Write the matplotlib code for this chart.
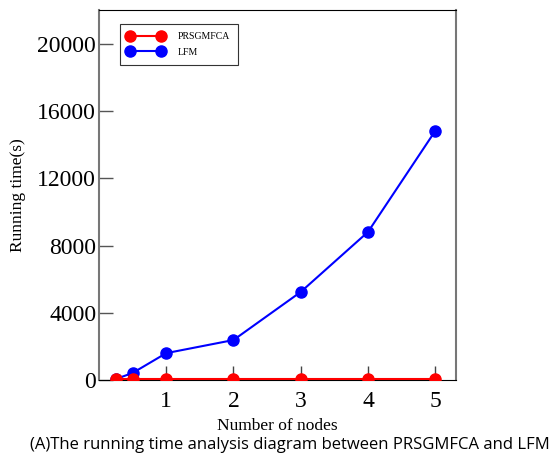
import matplotlib.pyplot as plt

nodes = [0.25, 0.5, 1, 2, 3, 4, 5]
prsgmfca = [40, 40, 40, 40, 40, 40, 40]
lfm = [60, 420, 1600, 2380, 5240, 8810, 14820]

plt.rcParams['font.family'] = 'Liberation Serif'

fig = plt.figure(figsize=(5.59, 4.59), dpi=100)
ax = fig.add_axes([0.177, 0.172, 0.639, 0.806])

ax.plot(nodes, lfm, color='blue', marker='o', markersize=8, lw=1.5, label='LFM', zorder=2)
ax.plot(nodes, prsgmfca, color='red', marker='o', markersize=8, lw=1.5, label='PRSGMFCA', zorder=3)

ax.set_xlim(0, 5.31)
ax.set_ylim(0, 22000)
ax.set_xticks([1, 2, 3, 4, 5])
ax.set_yticks([0, 4000, 8000, 12000, 16000, 20000])
ax.tick_params(axis='x', direction='in', length=10, width=1, color='#444444',
               labelsize=17, pad=8)
ax.tick_params(axis='y', direction='in', length=10, width=1, color='#555555',
               labelsize=17, pad=2)

ax.spines['left'].set_color('#777777')
ax.spines['right'].set_color('#777777')
ax.spines['left'].set_linewidth(1.5)
ax.spines['right'].set_linewidth(1.5)
ax.spines['top'].set_color('black')
ax.spines['bottom'].set_color('black')

ax.set_xlabel('Number of nodes', fontsize=12.5, labelpad=4)
ax.set_ylabel('Running time(s)', fontsize=12.5, labelpad=8)

handles, labels = ax.get_legend_handles_labels()
leg = ax.legend(handles[::-1], labels[::-1], loc='upper left', bbox_to_anchor=(0.058, 0.962),
                fontsize=7, fancybox=False, edgecolor='#333333', framealpha=1,
                numpoints=2, handlelength=3.8, borderpad=0.8, labelspacing=0.7,
                handletextpad=1.4, borderaxespad=0)
leg.get_frame().set_linewidth(0.8)

fig.text(0.519, 0.03, '(A)The running time analysis diagram between PRSGMFCA and LFM',
         ha='center', va='center', fontsize=12, family='Open Sans')

fig.savefig('out.png', dpi=100)
